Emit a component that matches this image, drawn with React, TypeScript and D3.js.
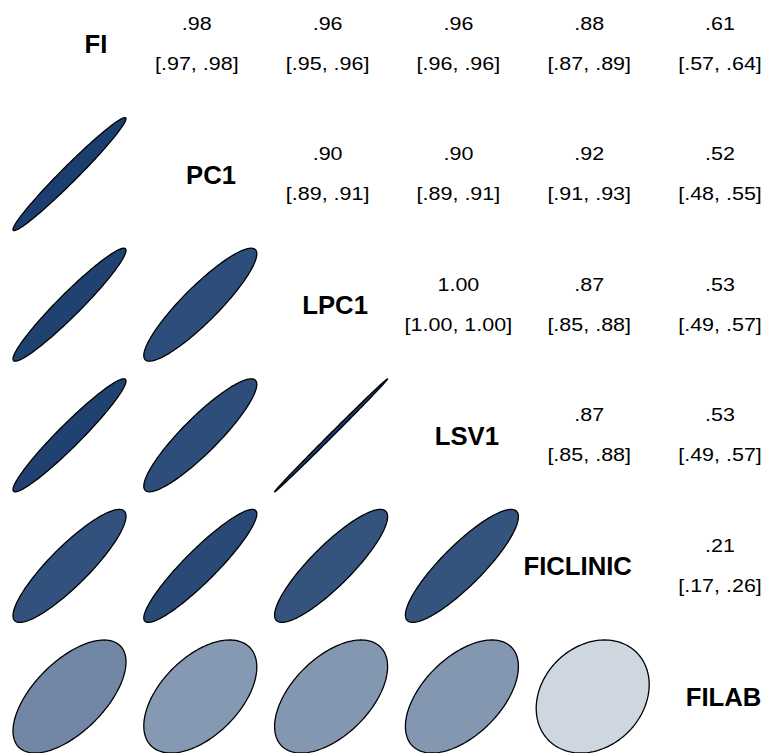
import React from "react";
import * as d3 from "d3";

// Variables shown along the diagonal
const variables = ["FI", "PC1", "LPC1", "LSV1", "FICLINIC", "FILAB"];

// Pairwise correlations (upper triangle, row-major) with confidence bounds
const pairs: [string, string][] = [
  ["FI", "PC1"], ["FI", "LPC1"], ["FI", "LSV1"], ["FI", "FICLINIC"], ["FI", "FILAB"],
  ["PC1", "LPC1"], ["PC1", "LSV1"], ["PC1", "FICLINIC"], ["PC1", "FILAB"],
  ["LPC1", "LSV1"], ["LPC1", "FICLINIC"], ["LPC1", "FILAB"],
  ["LSV1", "FICLINIC"], ["LSV1", "FILAB"],
  ["FICLINIC", "FILAB"],
];
const estimates = [0.98, 0.96, 0.96, 0.88, 0.61, 0.9, 0.9, 0.92, 0.52, 0.999, 0.87, 0.53, 0.87, 0.53, 0.21];
const lower = [0.97, 0.95, 0.96, 0.87, 0.57, 0.89, 0.89, 0.91, 0.48, 0.998, 0.85, 0.49, 0.85, 0.49, 0.17];
const upper = [0.98, 0.96, 0.96, 0.89, 0.64, 0.91, 0.91, 0.93, 0.55, 0.9995, 0.88, 0.57, 0.88, 0.57, 0.26];

const W = 775;
const H = 753;
const R = 56.5; // ellipse half-extent in px
const labelNudge = [26.5, 10.7, 4, 5, -15, 0];
const BASE = d3.rgb(22, 58, 107);

const fmt = (v: number) => {
  const s = d3.format(".2f")(v);
  return s.replace(/^0\./, ".").replace(/^-0\./, "-.");
};

function fillFor(r: number) {
  const a = Math.abs(r);
  return d3.interpolateRgb("#ffffff", BASE.formatHex())(a);
}

export default function App() {
  const x = d3.scalePoint<string>().domain(variables).range([69.5, 723.5]);
  const y = d3.scalePoint<string>().domain(variables).range([43.5, 696.5]);

  const lookup = new Map<string, number>();
  pairs.forEach(([a, b], i) => {
    lookup.set(a + "|" + b, i);
    lookup.set(b + "|" + a, i);
  });

  const ts = d3.range(0, 361, 2).map((deg) => (deg * Math.PI) / 180);

  const ellipse = (r: number, cx: number, cy: number) => {
    const d = Math.acos(r);
    const ex = d3.scaleLinear().domain([-1, 1]).range([cx - R, cx + R]);
    const ey = d3.scaleLinear().domain([-1, 1]).range([cy + R, cy - R]);
    const line = d3
      .line<number>()
      .x((t) => ex(Math.cos(t + d / 2)))
      .y((t) => ey(Math.cos(t - d / 2)))
      .curve(d3.curveLinearClosed);
    return line(ts.slice(0, -1)) as string;
  };

  const cells: React.ReactNode[] = [];
  variables.forEach((rowVar, i) => {
    variables.forEach((colVar, j) => {
      const cx = x(colVar)!;
      const cy = y(rowVar)!;
      if (i === j) {
        cells.push(
          <text
            key={`d-${i}`}
            x={cx + labelNudge[i]}
            y={cy + 9.5}
            textAnchor="middle"
            fontFamily="'Liberation Sans', Arial, Helvetica, sans-serif"
            fontWeight="bold"
            fontSize={25.7}
            fill="#000"
          >
            {rowVar}
          </text>
        );
      } else if (j > i) {
        const k = lookup.get(rowVar + "|" + colVar)!;
        const tx = cx - 3.5;
        cells.push(
          <g key={`u-${i}-${j}`} fontFamily="'Liberation Sans', Arial, Helvetica, sans-serif" fontSize={19.2} fill="#000">
            <text transform={`translate(${tx},${cy - 14}) scale(1.12,1)`} textAnchor="middle">
              {fmt(estimates[k])}
            </text>
            <text transform={`translate(${tx},${cy + 26}) scale(1.12,1)`} textAnchor="middle">
              {`[${fmt(lower[k])}, ${fmt(upper[k])}]`}
            </text>
          </g>
        );
      } else {
        const k = lookup.get(rowVar + "|" + colVar)!;
        const r = estimates[k];
        cells.push(
          <path
            key={`l-${i}-${j}`}
            d={ellipse(r, cx, cy)}
            fill={fillFor(r)}
            stroke="#000"
            strokeWidth={1.3}
            strokeLinejoin="round"
          />
        );
      }
    });
  });

  return (
    <svg
      width={W}
      height={H}
      viewBox={`0 0 ${W} ${H}`}
      style={{ position: "absolute", left: 0, top: 0, display: "block", background: "#fff" }}
    >
      <rect width={W} height={H} fill="#fff" />
      {cells}
    </svg>
  );
}
